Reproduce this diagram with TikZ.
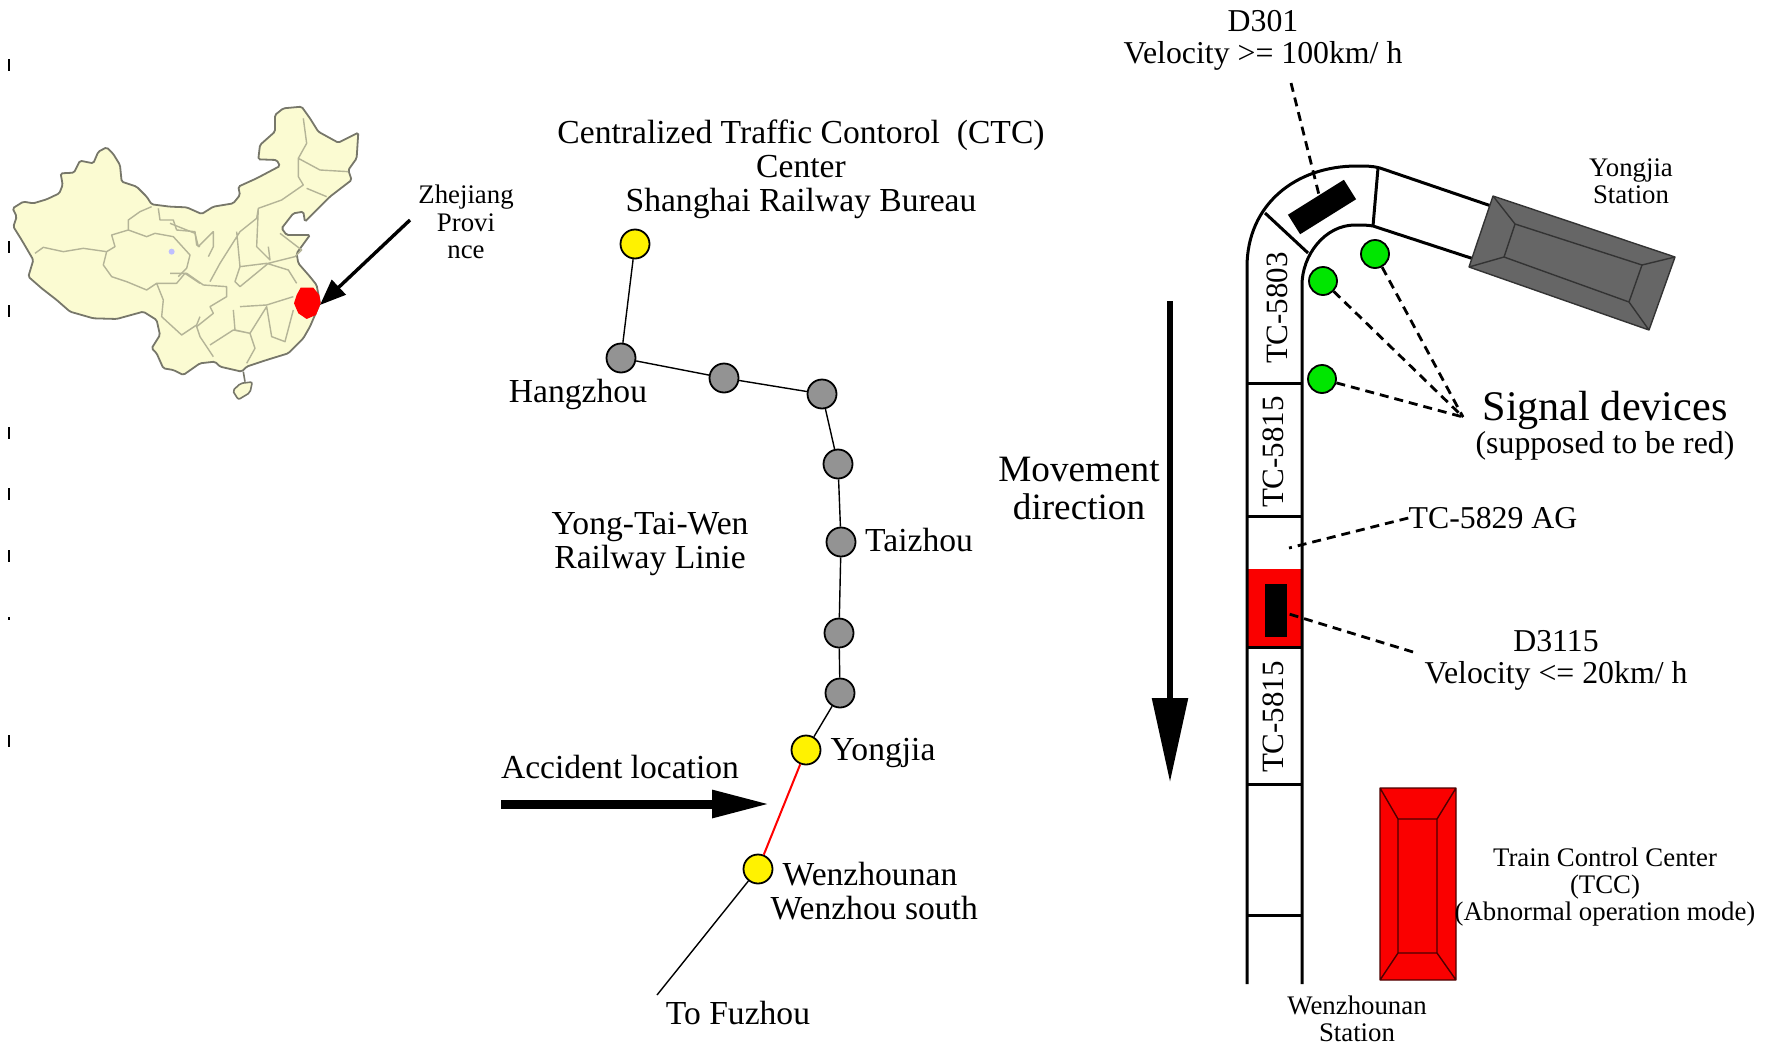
\documentclass[tikz,border=0pt]{standalone}
\usepackage{xcolor}
\usepackage{fontspec}
\setmainfont{Liberation Serif}
\usepackage{tikz}
\usetikzlibrary{arrows.meta, positioning}

\definecolor{mapfill}{HTML}{FBFBD2}
\definecolor{mapedge}{HTML}{77776A}
\definecolor{mapinner}{HTML}{B4B497}
\definecolor{stationgray}{HTML}{666666}
\definecolor{stationred}{HTML}{FA0000}
\definecolor{signalgreen}{HTML}{00E600}

\begin{document}
\begin{tikzpicture}[
    x=0.5pt, y=-0.5pt,
    txt/.style={inner sep=0pt, align=center, font=\fontsize{16.8}{17}\selectfont},
    smalltxt/.style={inner sep=0pt, align=center, font=\fontsize{13.4}{13.6}\selectfont},
    vel/.style={inner sep=0pt, align=center, font=\fontsize{15.9}{16}\selectfont},
    tclabel/.style={inner sep=0pt, rotate=90, font=\fontsize{15.5}{16}\selectfont},
    stop/.style={draw=black, circle, line width=0.9pt, minimum size=14.5pt, inner sep=0pt},
    grey stop/.style={stop, fill=gray!85!white},
    yellow stop/.style={stop, fill=yellow},
    signal/.style={draw=black, circle, line width=0.9pt, minimum size=14pt, inner sep=0pt, fill=signalgreen},
    train/.style={fill=black, inner sep=0pt},
    railline/.style={black, line width=0.7pt},
    rail/.style={black, line width=1.5pt},
    dashline/.style={black, line width=1.4pt, dash pattern=on 4.5pt off 3pt},
    tick mark/.style={black, line width=0.6pt},
    province/.style={mapinner, line width=0.7pt, line join=round}
]
    \useasboundingbox (0,0) rectangle (1777,1044);

    % Map
    \begin{scope}[shift={(0,140)}, scale=0.3333]
    \draw[fill=mapfill, draw=mapedge, line width=0.9pt, rounded corners=0.8pt]
        (38,205) -- (70,185) -- (100,190) -- (140,178) -- (178,160) -- (188,135) -- (182,100)
        -- (222,98) -- (240,62) -- (280,70) -- (295,35) -- (320,22) -- (340,42) -- (360,75)
        -- (365,125) -- (410,140) -- (440,170) -- (455,193) -- (510,200) -- (560,202) -- (605,222)
        -- (640,200) -- (700,190) -- (720,165) -- (715,140) -- (770,115) -- (840,78) -- (830,60)
        -- (775,58) -- (780,15) -- (825,-25) -- (825,-75) -- (850,-95) -- (905,-100) -- (930,-65)
        -- (955,-25) -- (1015,8) -- (1075,-22) -- (1070,55) -- (1045,90) -- (1055,120) -- (990,170)
        -- (915,245) -- (910,215) -- (880,220) -- (845,265) -- (860,285) -- (930,285) -- (890,340)
        -- (895,370) -- (930,410) -- (950,435) -- (960,490) -- (930,560) -- (910,595) -- (865,640)
        -- (800,660) -- (740,680) -- (725,695) -- (660,680) -- (645,665) -- (600,670) -- (550,705)
        -- (520,690) -- (490,685) -- (470,640) -- (455,625) -- (480,585) -- (470,540) -- (430,515)
        -- (350,537) -- (280,535) -- (210,515) -- (170,480) -- (125,445) -- (85,410) -- (100,360)
        -- (65,300) -- (40,260) -- (50,230) -- cycle;
    \draw[province]
        (105,340) -- (130,322) -- (190,335) -- (250,325) -- (320,335) -- (345,320) -- (335,285)
        -- (385,270) -- (385,240) -- (420,215) -- (455,200)
        (385,270) -- (440,290) -- (465,280) -- (520,290) -- (570,345) -- (560,385) -- (535,410)
        (320,335) -- (310,375) -- (335,410) -- (380,425) -- (440,450) -- (470,430) -- (530,430) -- (555,400) -- (600,430)
        (470,430) -- (490,480) -- (485,530) -- (545,585) -- (590,555) -- (600,530)
        (475,205) -- (480,240) -- (520,240) -- (530,270) -- (585,275) -- (590,315) -- (600,320);
    \fill[blue!25!white] (515,335) circle [radius=9];
    \end{scope}

    \begin{scope}[shift={(170,100)}, scale=0.3333]
    \draw[province]
        (0,370) -- (75,400) -- (85,440) -- (130,395) -- (130,440) -- (115,470)
        (0,520) -- (50,520) -- (100,555) -- (170,560) -- (170,590) -- (120,620) -- (130,640) -- (80,680) -- (90,710) -- (130,770)
        (120,545) -- (150,490) -- (210,395) -- (260,355) -- (265,325) -- (335,300) -- (400,255) -- (385,230) -- (385,175) -- (410,130) -- (400,55)
        (200,395) -- (210,500) -- (195,545) -- (210,560) -- (295,490) -- (375,470) -- (395,450) -- (330,400)
        (265,325) -- (260,440) -- (300,480) -- (295,440)
        (210,500) -- (290,490) -- (355,510) -- (380,550)
        (210,620) -- (290,615) -- (370,590)
        (190,630) -- (195,690) -- (240,700) -- (290,620) -- (305,710) -- (345,725) -- (370,630)
        (120,735) -- (190,690) -- (240,700) -- (255,745) -- (230,790)
        (385,175) -- (450,210) -- (535,215)
        (410,265) -- (470,290);
    \draw[mapedge, line width=0.8pt] (220,815) -- (225,845);
    \draw[mapedge, fill=mapfill, line width=0.8pt, rounded corners=1pt]
        (188,872) -- (212,850) -- (247,846) -- (240,878) -- (205,899) -- cycle;
    \fill[red] (392,563) -- (430,563) -- (448,585) -- (452,610) -- (438,645) -- (410,657) -- (385,640) -- (372,610) -- (380,585) -- cycle;
    \coordinate (zhejiangtip) at (450,615);
    \end{scope}
    \coordinate (zhejiangtail) at (410,220);
    \draw[-{Triangle[length=13pt, width=10pt]}, line width=1.7pt] (zhejiangtail) -- (zhejiangtip);
    \node[smalltxt] (zhejiang) at (466,222) {Zhejiang\\Provi\\nce};

    % Marks along the left edge
    \foreach \tickname/\ticky in {ta/65, tb/247, tc/311, td/433, te/494, tf/556, tg/741} {
        \coordinate (\tickname top) at (9,\ticky-6);
        \coordinate (\tickname bot) at (9,\ticky+6);
        \draw[tick mark] (\tickname top) -- (\tickname bot);
    }
    \coordinate (thtop) at (9,617);
    \coordinate (thbot) at (9,620);
    \draw[tick mark] (thtop) -- (thbot);

    % Railway line
    \node[yellow stop] (shanghai) at (635,244) {};
    \node[grey stop] (hangzhou) at (621,358) {};
    \node[grey stop] (stopa) at (724,378) {};
    \node[grey stop] (stopb) at (822,394) {};
    \node[grey stop] (stopc) at (838,464) {};
    \node[grey stop] (taizhou) at (841,542) {};
    \node[grey stop] (stopd) at (839,633) {};
    \node[grey stop] (stope) at (840,693) {};
    \node[yellow stop] (yongjia) at (806,750) {};
    \node[yellow stop] (wenzhou) at (758,869) {};
    \coordinate (fuzhouend) at (657,995);

    \draw[railline] (shanghai) -- (hangzhou);
    \draw[railline] (hangzhou) -- (stopa);
    \draw[railline] (stopa) -- (stopb);
    \draw[railline] (stopb) -- (stopc);
    \draw[railline] (stopc) -- (taizhou);
    \draw[railline] (taizhou) -- (stopd);
    \draw[railline] (stopd) -- (stope);
    \draw[railline] (stope) -- (yongjia);
    \draw[red, line width=1pt] (yongjia) -- (wenzhou);
    \draw[railline] (wenzhou) -- (fuzhouend);

    \node[txt] (ctc) at (801,169) {Centralized Traffic Contorol~~(CTC)\\Center\\Shanghai Railway Bureau};
    \node[txt] (hangzhoutxt) at (578,394) {Hangzhou};
    \node[txt] (taizhoutxt) at (919,540) {Taizhou};
    \node[txt] (linetxt) at (650,544) {Yong-Tai-Wen\\Railway Linie};
    \node[txt] (yongjiatxt) at (883,753) {Yongjia};
    \node[txt] (wenzhoutxt) at (870,891) {Wenzhounan\\~Wenzhou south};
    \node[txt] (fuzhoutxt) at (738,1013) {To Fuzhou};
    \node[txt] (accident) at (620,767) {Accident location};

    \coordinate (accidenta) at (501,804);
    \coordinate (accidentb) at (770,804);
    \draw[-{Triangle[length=29pt, width=13pt]}, line width=4.5pt] (accidenta) -- (accidentb);

    % Movement direction
    \node[inner sep=0pt, align=center, font=\fontsize{18.6}{19}\selectfont] (movement) at (1079,488) {Movement\\direction};
    \coordinate (movea) at (1170,301);
    \coordinate (moveb) at (1170,782);
    \draw[-{Triangle[length=42pt, width=17.5pt]}, line width=2.8pt] (movea) -- (moveb);

    % Track
    \fill[stationred] (1247,569) rectangle (1302,647);
    \draw[rail] (1247,984) -- (1247,267) .. controls (1247,205) and (1295,166) .. (1357,166)
        .. controls (1365,166) and (1373,166) .. (1380,168) -- (1500,209);
    \draw[rail] (1302,984) -- (1302,285) .. controls (1302,255) and (1325,225) .. (1355,225)
        .. controls (1362,225) and (1368,225) .. (1373,226) -- (1480,261);
    \draw[rail] (1265,213) -- (1308,253);
    \draw[rail] (1378,168) -- (1373,226);
    \foreach \sepname/\sepy in {sa/383, sb/516, sc/647, sd/784, se/915} {
        \coordinate (\sepname l) at (1247,\sepy);
        \coordinate (\sepname r) at (1302,\sepy);
        \draw[rail] (\sepname l) -- (\sepname r);
    }

    \node[tclabel] (tcc5803) at (1277,308) {TC-5803};
    \node[tclabel] (tcc5815a) at (1273,452) {TC-5815};
    \node[tclabel] (tcc5815b) at (1273,717) {TC-5815};

    % Trains
    \node[train, rotate=32, minimum width=33pt, minimum height=11.5pt] (dfast) at (1322,207) {};
    \node[train, minimum width=11pt, minimum height=26.5pt] (dslow) at (1276,610) {};

    % Stations
    \draw[fill=stationgray, draw=black!80, line width=0.7pt, line join=round]
        (1493,196) -- (1675,257) -- (1649,330) -- (1469,267) -- cycle
        (1515,224) -- (1642,265) -- (1629,302) -- (1504,257) -- cycle
        (1493,196) -- (1515,224) (1675,257) -- (1642,265) (1649,330) -- (1629,302) (1469,267) -- (1504,257);
    \draw[fill=stationred, draw=black!70!red, line width=0.7pt, line join=round]
        (1380,788) rectangle (1456,980)
        (1398,819) rectangle (1437,953)
        (1380,788) -- (1398,819) (1456,788) -- (1437,819) (1380,980) -- (1398,953) (1456,980) -- (1437,953);

    % Signals
    \node[signal] (siga) at (1375,254) {};
    \node[signal] (sigb) at (1323,281) {};
    \node[signal] (sigc) at (1322,379) {};
    \coordinate (sigmeet) at (1463,417);
    \draw[dashline] (siga) -- (sigmeet);
    \draw[dashline] (sigb) -- (sigmeet);
    \draw[dashline] (sigc) -- (sigmeet);

    % Labels right
    \node[vel] (dfasttxt) at (1263,40) {D301\\Velocity >= 100km/ h};
    \coordinate (dfastend) at (1291,83);
    \draw[dashline] (dfastend) -- (dfast.center);
    \node[smalltxt] (yongjiast) at (1631,181) {Yongjia\\Station};
    \node[inner sep=0pt, font=\fontsize{21.1}{22}\selectfont] (signaltxt) at (1605,410) {Signal devices};
    \node[vel, below=0.5pt of signaltxt] (signalsub) {(supposed to be red)};
    \node[vel] (agtxt) at (1493,518) {TC-5829 AG};
    \coordinate (agend) at (1289,548);
    \draw[dashline] (agtxt.west) -- (agend);
    \node[vel] (dslowtxt) at (1556,660) {D3115\\Velocity <= 20km/ h};
    \coordinate (dslowend) at (1413,652);
    \draw[dashline] (dslowend) -- (dslow);
    \node[smalltxt] (tcctxt) at (1605,887) {Train Control Center\\(TCC)\\(Abnormal operation mode)};
    \node[smalltxt] (wenzhouan) at (1357,1019) {Wenzhounan\\Station};
\end{tikzpicture}
\end{document}
